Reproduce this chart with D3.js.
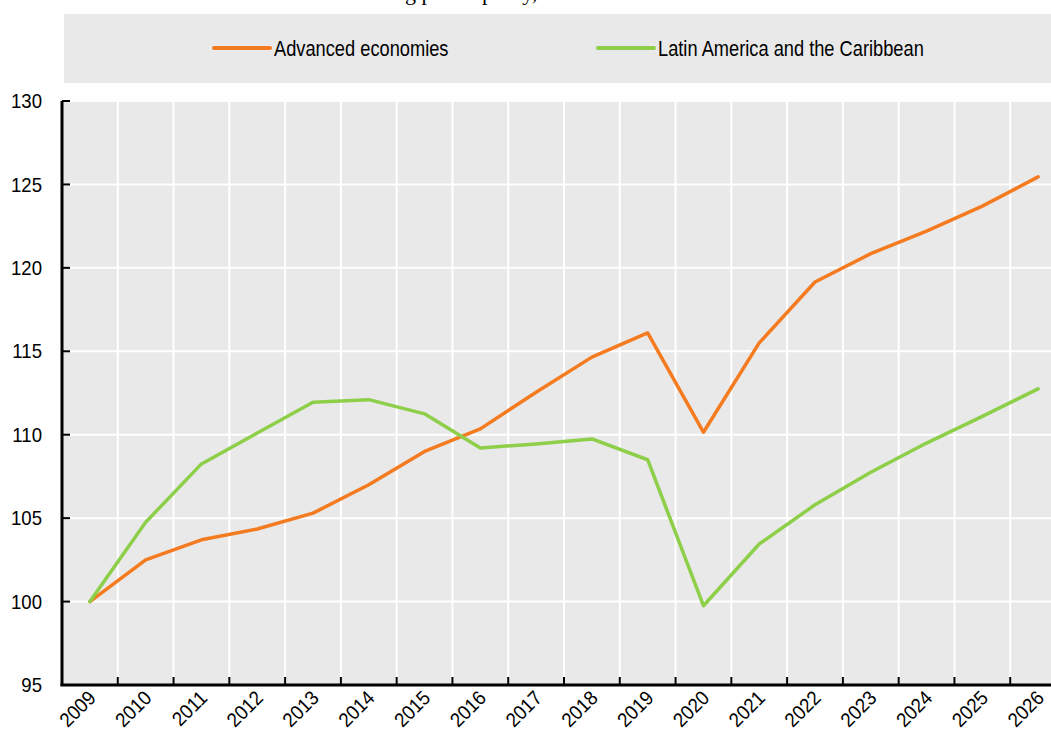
<!DOCTYPE html>
<html>
<head>
<meta charset="utf-8">
<script src="https://cdn.jsdelivr.net/npm/d3@7"></script>
<style>
  body { margin: 0; background: #fff; }
  svg { display: block; }
  text { font-family: "Liberation Sans", Arial, sans-serif; fill: #000; }
</style>
</head>
<body>
<svg id="chart" width="1051" height="731"></svg>
<script>
// data
var years = ["2009","2010","2011","2012","2013","2014","2015","2016","2017",
             "2018","2019","2020","2021","2022","2023","2024","2025","2026"];
var advanced = [100, 102.5, 103.7, 104.35, 105.3, 107.0, 109.0, 110.35, 112.55,
                114.65, 116.1, 110.15, 115.5, 119.15, 120.85, 122.2, 123.7, 125.45];
var latam = [100, 104.75, 108.25, 110.1, 111.95, 112.1, 111.25, 109.2, 109.45,
             109.75, 108.5, 99.75, 103.45, 105.8, 107.75, 109.5, 111.1, 112.75];
var seriesNames = ["Advanced economies", "Latin America and the Caribbean"];
var seriesColors = ["#f47b20", "#8ecf4a"];
var yTicks = [95, 100, 105, 110, 115, 120, 125, 130];

var svg = d3.select("#chart");
var W = 1051;
var plotLeft = 62, plotRight = 1066, plotTop = 101, plotBottom = 685;
var grey = "#e9e9e9";

// cut-off subtitle at the very top (only descenders show)
var sub = svg.append("text")
    .attr("y", 0)
    .style("font-family", "'Liberation Serif', serif")
    .style("font-size", "22px")
    .text("Real GDP in constant USD terms using power parity, 2009 = 100");
var gIdx = sub.text().indexOf("g power");
var off = sub.node().getSubStringLength(0, gIdx);
sub.attr("x", 405 - off);

// legend box
svg.append("rect")
    .attr("x", 64).attr("y", 14)
    .attr("width", W - 64).attr("height", 69)
    .attr("fill", grey);

var legendX = [214, 598];
seriesNames.forEach(function(name, i) {
    svg.append("line")
        .attr("x1", legendX[i]).attr("x2", legendX[i] + 56)
        .attr("y1", 48).attr("y2", 48)
        .attr("stroke", seriesColors[i])
        .attr("stroke-width", 4)
        .attr("stroke-linecap", "round");
    svg.append("text")
        .attr("transform", "translate(" + (legendX[i] + 60) + ",56) scale(0.83,1)")
        .style("font-size", "22px")
        .text(name);
});

// scales
var x = d3.scaleBand().domain(years).range([plotLeft, plotRight]);
var y = d3.scaleLinear().domain([95, 130]).range([plotBottom, plotTop]);

// plot background
svg.append("rect")
    .attr("x", plotLeft).attr("y", plotTop)
    .attr("width", W - plotLeft).attr("height", plotBottom - plotTop)
    .attr("fill", grey);

// grid
var grid = svg.append("g");
grid.selectAll(".hg").data(yTicks.slice(1)).enter().append("line")
    .attr("x1", plotLeft).attr("x2", W)
    .attr("y1", function(d) { return y(d); })
    .attr("y2", function(d) { return y(d); })
    .attr("stroke", "#fff").attr("stroke-width", 2);
grid.selectAll(".vg").data(years.slice(1)).enter().append("line")
    .attr("x1", function(d) { return x(d); })
    .attr("x2", function(d) { return x(d); })
    .attr("y1", plotTop).attr("y2", plotBottom)
    .attr("stroke", "#fff").attr("stroke-width", 2);

// lines
var line = d3.line()
    .x(function(d, i) { return x(years[i]) + x.bandwidth() / 2; })
    .y(function(d) { return y(d); });

[advanced, latam].forEach(function(vals, i) {
    svg.append("path")
        .datum(vals)
        .attr("d", line)
        .attr("fill", "none")
        .attr("stroke", seriesColors[i])
        .attr("stroke-width", 3.5)
        .attr("stroke-linejoin", "round")
        .attr("stroke-linecap", "round");
});

// y axis
var gy = svg.append("g");
gy.selectAll(".yt").data(yTicks.slice(1)).enter().append("line")
    .attr("x1", plotLeft).attr("x2", plotLeft + 8)
    .attr("y1", function(d) { return y(d); })
    .attr("y2", function(d) { return y(d); })
    .attr("stroke", "#000").attr("stroke-width", 2);
gy.selectAll(".yl").data(yTicks).enter().append("text")
    .attr("transform", function(d) { return "translate(42," + y(d) + ") scale(0.93,1)"; })
    .attr("text-anchor", "end")
    .attr("dy", "0.36em")
    .style("font-size", "20px")
    .text(function(d) { return d; });
gy.append("line")
    .attr("x1", plotLeft).attr("x2", plotLeft)
    .attr("y1", plotTop).attr("y2", plotBottom + 1)
    .attr("stroke", "#000").attr("stroke-width", 3);

// x axis
var gx = svg.append("g").attr("transform", "translate(0," + plotBottom + ")");
gx.selectAll(".xt").data(years.slice(1)).enter().append("line")
    .attr("x1", function(d) { return x(d); })
    .attr("x2", function(d) { return x(d); })
    .attr("y1", 0).attr("y2", -8)
    .attr("stroke", "#000").attr("stroke-width", 2);
gx.append("line")
    .attr("x1", plotLeft - 1.5).attr("x2", W)
    .attr("y1", 0).attr("y2", 0)
    .attr("stroke", "#000").attr("stroke-width", 3);
gx.selectAll(".xl").data(years).enter().append("text")
    .attr("transform", function(d) {
        return "translate(" + (x(d) + x.bandwidth() / 2 + 2) + ",9) rotate(-45) scale(0.93,1)";
    })
    .attr("text-anchor", "end")
    .attr("dy", "0.36em")
    .style("font-size", "20px")
    .text(function(d) { return d; });
</script>
</body>
</html>
